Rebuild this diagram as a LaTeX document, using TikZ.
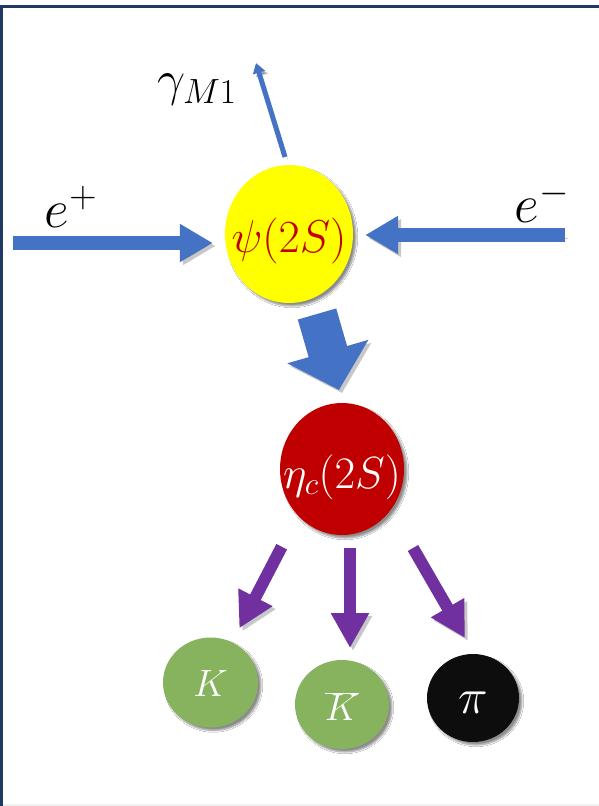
\RequirePackage{fix-cm}
\documentclass[tikz,border=0pt]{standalone}
\usetikzlibrary{arrows.meta,shapes.geometric,shadows.blur}
\definecolor{framenavy}{HTML}{1F3864}
\definecolor{arrowblue}{HTML}{4472C4}
\definecolor{psiyellow}{HTML}{FFFF00}
\definecolor{darkred}{HTML}{C00000}
\definecolor{kgreen}{HTML}{87B35F}
\definecolor{pionblack}{HTML}{0D0D0D}
\definecolor{decaypurple}{HTML}{7030A0}
\newcommand{\ptext}[3]{\raisebox{#2}[0pt][0pt]{\makebox[0pt]{\fontsize{#1}{#1}\selectfont #3}}}
\tikzset{
  particle/.style={ellipse, inner sep=0pt, blur shadow={shadow xshift=3pt, shadow yshift=-3pt, shadow blur steps=6, shadow opacity=45}},
  arrshadow/.style={preaction={draw=black, opacity=0.22, transform canvas={xshift=3pt,yshift=-3pt}}},
  beamarrow/.style={draw=arrowblue, line width=14pt, arrshadow, -{Triangle[length=33pt,width=36pt]}},
  gammaarrow/.style={draw=arrowblue, line width=5pt, arrshadow, -{Triangle[length=10pt,width=12pt]}},
  bigarrow/.style={draw=arrowblue, line width=40pt, arrshadow, -{Triangle[length=40pt,width=82pt]}},
  decayarrow/.style={draw=decaypurple, line width=12pt, arrshadow, -{Triangle[length=35pt,width=36pt]}},
  lbl/.style={inner sep=0pt, text=black}
}
\begin{document}
\begin{tikzpicture}[x=1pt,y=-1pt]
\useasboundingbox (0,0) rectangle (599,806);
\fill[white] (0,0) rectangle (599,806);
\fill[black!6] (0,804) rectangle (599,806);
\fill[framenavy] (0,5) rectangle (599,8);
\fill[framenavy] (0,5) rectangle (2.7,806);

% particles
\node[particle, fill=psiyellow, minimum width=128pt, minimum height=138pt, text=darkred] (psi) at (289,234)
  {\ptext{46}{-18pt}{$\psi(2S)$}};
\node[particle, fill=darkred, minimum width=124pt, minimum height=132pt, text=white] (eta) at (342,469)
  {\ptext{45}{-19pt}{$\eta_c(2S)$}};
\node[particle, fill=kgreen, minimum width=95pt, minimum height=90pt, text=white] (K) at (210.5,682.5)
  {\ptext{38}{-14pt}{$K$}};
\node[particle, fill=kgreen, minimum width=94pt, minimum height=89pt, text=white] (Kbar) at (342,704.5)
  {\ptext{38}{-16pt}{$\overline{K}$}};
\node[particle, fill=pionblack, minimum width=92pt, minimum height=88pt, text=white] (pi) at (473,698)
  {\ptext{50}{-15pt}{$\pi$}};

% labels
\node[lbl] (eplus) at (71,207) {\fontsize{54}{58}\selectfont$e^{+}$};
\node[lbl] (eminus) at (542,202) {\fontsize{54}{58}\selectfont$e^{-}$};
\node[lbl] (gam) at (197,90) {\fontsize{50}{54}\selectfont$\gamma_{M1}$};

% free ends
\coordinate (epstart) at (13,243);
\coordinate (emstart) at (565,235);
\coordinate (gtail) at (285,157);
\coordinate (gtip) at (256,63);
\coordinate (bstart) at (317,314);
\coordinate (btip) at (339,390);
\coordinate (d1s) at (281.7,546.7);
\coordinate (d1e) at (239.3,628.3);
\coordinate (d2s) at (350,548);
\coordinate (d2e) at (350,648);
\coordinate (d3s) at (413,548);
\coordinate (d3e) at (465,638);

% connectors
\draw[beamarrow, shorten >=12pt] (epstart) -- (epstart -| psi.west);
\draw[beamarrow, shorten >=12pt] (emstart) -- (emstart -| psi.east);
\draw[gammaarrow] (gtail) -- (gtip);
\draw[bigarrow] (bstart) -- (btip);
\draw[decayarrow] (d1s) -- (d1e);
\draw[decayarrow] (d2s) -- (d2e);
\draw[decayarrow] (d3s) -- (d3e);
\end{tikzpicture}
\end{document}
